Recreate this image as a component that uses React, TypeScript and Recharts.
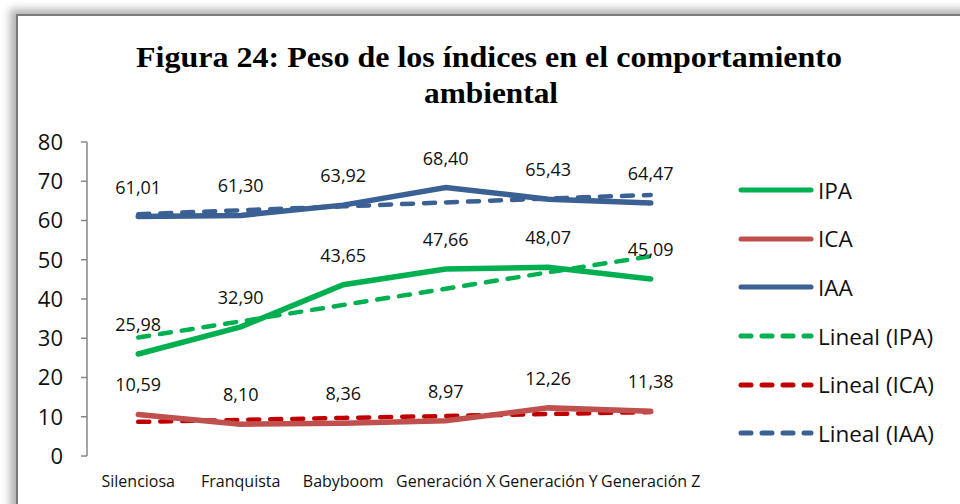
import React from 'react'
import { LineChart, Line, XAxis, YAxis, LabelList } from 'recharts'

const categories = ['Silenciosa', 'Franquista', 'Babyboom', 'Generación X', 'Generación Y', 'Generación Z']
const ipa = [25.98, 32.9, 43.65, 47.66, 48.07, 45.09]
const ica = [10.59, 8.1, 8.36, 8.97, 12.26, 11.38]
const iaa = [61.01, 61.3, 63.92, 68.4, 65.43, 64.47]
// trend lines
const ipaTrend = [30.2, 34.3, 38.5, 42.6, 46.8, 50.9]
const icaTrend = [8.7, 9.2, 9.7, 10.2, 10.7, 11.2]
const iaaTrend = [61.6, 62.6, 63.6, 64.6, 65.6, 66.5]
const yTicks = [0, 10, 20, 30, 40, 50, 60, 70, 80]
const edgeTicks = [0, 1, 2, 3, 4, 5, 6]

const data = categories.map((name, i) => ({
  name,
  IPA: ipa[i],
  ICA: ica[i],
  IAA: iaa[i],
  tIPA: ipaTrend[i],
  tICA: icaTrend[i],
  tIAA: iaaTrend[i],
}))

const GREEN = '#00b050'
const RED = '#c0504d'
const DARK_RED = '#c00000'
const BLUE = '#3a6094'
const AXIS = '#868686'
const FONT = '"Open Sans", "Noto Sans", sans-serif'
const TITLE_FONT = '"Liberation Serif", serif'

const legendItems = [
  { label: 'IPA', color: GREEN, dashed: false },
  { label: 'ICA', color: RED, dashed: false },
  { label: 'IAA', color: BLUE, dashed: false },
  { label: 'Lineal (IPA)', color: GREEN, dashed: true },
  { label: 'Lineal (ICA)', color: DARK_RED, dashed: true },
  { label: 'Lineal (IAA)', color: BLUE, dashed: true },
]

const fmt = (v: number) => v.toFixed(2).replace('.', ',')

function ValueLabel(props: any) {
  const { x, y, value } = props
  if (x == null || y == null) return null
  return (
    <text x={x} y={y - 30} textAnchor="middle" dominantBaseline="central"
      fontSize={18} fontFamily={FONT} fill="#111">
      {fmt(value)}
    </text>
  )
}

function CatTick(props: any) {
  const { x, y, payload } = props
  return (
    <text x={x} y={y + 17} textAnchor="middle" dominantBaseline="central"
      fontSize={16} fontFamily={FONT} fill="#111">
      {payload.value}
    </text>
  )
}

export default function App() {
  return (
    <div style={{ position: 'absolute', left: 0, top: 0, width: 960, height: 504, background: '#fff', overflow: 'hidden' }}>
      <div style={{
        position: 'absolute', left: 16, top: 14, width: 980, height: 520, background: '#fff',
        borderLeft: '2px solid #7a7a7a', borderTop: '2px solid #7a7a7a',
        boxShadow: '-6px -5px 8px rgba(0,0,0,0.3)',
      }} />
      <svg width={960} height={120} style={{ position: 'absolute', left: 0, top: 0 }}>
        <text x={489} y={67} textAnchor="middle" fontFamily={TITLE_FONT} fontWeight="bold" fontSize={29} fill="#000"
          textLength={706} lengthAdjust="spacingAndGlyphs">
          Figura 24: Peso de los índices en el comportamiento
        </text>
        <text x={491} y={103} textAnchor="middle" fontFamily={TITLE_FONT} fontWeight="bold" fontSize={29} fill="#000"
          textLength={134} lengthAdjust="spacingAndGlyphs">
          ambiental
        </text>
      </svg>
      <div style={{ position: 'absolute', left: 0, top: 0 }}>
        <LineChart width={960} height={504} data={data} margin={{ top: 142, right: 258, bottom: 18, left: 37 }}>
          <XAxis xAxisId="edge" type="number" domain={[0, 6]} ticks={edgeTicks} tick={false}
            height={0} axisLine={{ stroke: AXIS, strokeWidth: 1.5 }} tickLine={{ stroke: AXIS, strokeWidth: 1.5 }} tickSize={6} />
          <XAxis xAxisId="cat" dataKey="name" scale="band" interval={0} axisLine={false} tickLine={false}
            height={30} tick={<CatTick />} />
          <YAxis domain={[0, 80]} ticks={yTicks} interval={0} width={50}
            axisLine={{ stroke: AXIS, strokeWidth: 1.5 }} tickLine={{ stroke: AXIS, strokeWidth: 1.5 }} tickSize={6} tickMargin={18}
            tick={{ fontSize: 22, fontFamily: FONT, fill: '#111' }} />
          <Line xAxisId="cat" dataKey="tIPA" stroke={GREEN} strokeWidth={4.5} strokeDasharray="11 11" strokeLinecap="round" dot={false} isAnimationActive={false} />
          <Line xAxisId="cat" dataKey="tICA" stroke={DARK_RED} strokeWidth={4.5} strokeDasharray="11 11" strokeLinecap="round" dot={false} isAnimationActive={false} />
          <Line xAxisId="cat" dataKey="IPA" stroke={GREEN} strokeWidth={5.5} strokeLinecap="round" dot={false} isAnimationActive={false}>
            <LabelList dataKey="IPA" content={<ValueLabel />} />
          </Line>
          <Line xAxisId="cat" dataKey="ICA" stroke={RED} strokeWidth={5.5} strokeLinecap="round" dot={false} isAnimationActive={false}>
            <LabelList dataKey="ICA" content={<ValueLabel />} />
          </Line>
          <Line xAxisId="cat" dataKey="IAA" stroke={BLUE} strokeWidth={5.5} strokeLinecap="round" dot={false} isAnimationActive={false}>
            <LabelList dataKey="IAA" content={<ValueLabel />} />
          </Line>
          <Line xAxisId="cat" dataKey="tIAA" stroke={BLUE} strokeWidth={4.5} strokeDasharray="11 11" strokeLinecap="round" dot={false} isAnimationActive={false} />
        </LineChart>
      </div>
      <div style={{ position: 'absolute', left: 738, top: 166 }}>
        {legendItems.map(item => (
          <div key={item.label} style={{ display: 'flex', alignItems: 'center', height: 48.6 }}>
            <svg width={76} height={10}>
              <line x1={3} y1={5} x2={73} y2={5} stroke={item.color} strokeWidth={5} strokeLinecap="round"
                strokeDasharray={item.dashed ? '10 11' : undefined} />
            </svg>
            <span style={{ fontFamily: FONT, fontSize: 22.5, color: '#111', marginLeft: 4 }}>{item.label}</span>
          </div>
        ))}
      </div>
    </div>
  )
}
